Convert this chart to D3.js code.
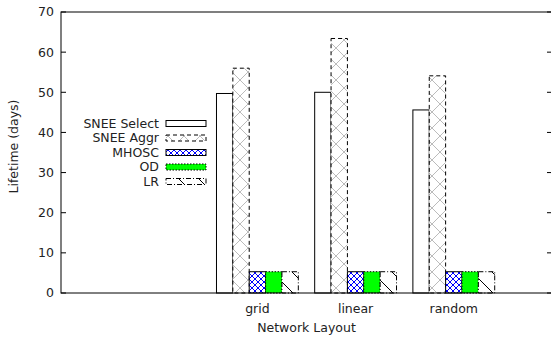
<!DOCTYPE html>
<html>
<head>
<meta charset="utf-8">
<script src="https://cdn.jsdelivr.net/npm/d3@7"></script>
<style>
  body { margin: 0; background: #fff; }
  svg { display: block; }
</style>
</head>
<body>
<svg id="chart" width="551" height="337"></svg>
<script>
// data
const layouts = ["grid", "linear", "random"];
const seriesNames = ["SNEE Select", "SNEE Aggr", "MHOSC", "OD", "LR"];
const sneeSelect = [49.7, 50.0, 45.6];
const sneeAggr = [56.0, 63.4, 54.1];
const mhosc = [5.3, 5.3, 5.3];
const od = [5.3, 5.3, 5.3];
const lr = [5.3, 5.3, 5.3];
const yTicks = [0, 10, 20, 30, 40, 50, 60, 70];

const series = [sneeSelect, sneeAggr, mhosc, od, lr];

const width = 551, height = 337;
const margin = { left: 61, right: -1, top: 12, bottom: 44 };
const svg = d3.select("#chart")
    .attr("font-family", "DejaVu Sans, sans-serif")
    .attr("font-size", 12.5);

// patterns, gnuplot-ish
const defs = svg.append("defs");
function hatch(id, size, color, cross) {
    const p = defs.append("pattern")
        .attr("id", id)
        .attr("patternUnits", "userSpaceOnUse")
        .attr("width", size).attr("height", size);
    p.append("rect").attr("width", size).attr("height", size).attr("fill", "#fff");
    p.append("path")
        .attr("d", `M0,0L${size},${size}`)
        .attr("stroke", color).attr("stroke-width", 1);
    if (cross) p.append("path")
        .attr("d", `M${size},0L0,${size}`)
        .attr("stroke", color).attr("stroke-width", 1);
}
hatch("pAggr", 16, "#bbbbbb", true);
hatch("pMhosc", 6, "#0000ff", true);
hatch("pLr", 20, "#000000", false);

const styles = [
    { fill: "#ffffff", stroke: "#000", dash: null },
    { fill: "url(#pAggr)", stroke: "#000", dash: "4,3" },
    { fill: "url(#pMhosc)", stroke: "#000", dash: null },
    { fill: "#00ff00", stroke: "#000", dash: "1.5,1.5" },
    { fill: "url(#pLr)", stroke: "#000", dash: "5,2,1,2" }
];

const x = d3.scaleLinear().domain([-2, 3]).range([margin.left, width - margin.right]);
const y = d3.scaleLinear().domain([0, 70]).range([height - margin.bottom, margin.top]);

const unit = x(1) - x(0);
const bw = unit / 6;

// bars
series.forEach((vals, j) => {
    svg.append("g")
        .selectAll("rect")
        .data(vals)
        .join("rect")
        .attr("x", (d, i) => x(i) + (j - 2.5) * bw)
        .attr("y", d => y(d))
        .attr("width", bw)
        .attr("height", d => y(0) - y(d))
        .attr("fill", styles[j].fill)
        .attr("stroke", styles[j].stroke)
        .attr("stroke-width", 1)
        .attr("stroke-dasharray", styles[j].dash);
});

// border
const x0 = x.range()[0], x1 = x.range()[1];
svg.append("rect")
    .attr("x", x0).attr("y", y(70))
    .attr("width", x1 - x0).attr("height", y(0) - y(70))
    .attr("fill", "none").attr("stroke", "#000").attr("stroke-width", 1);

// y ticks, inward on both sides
const yt = svg.append("g");
yt.selectAll("line.l").data(yTicks).join("line")
    .attr("class", "l")
    .attr("x1", x0).attr("x2", x0 + 5)
    .attr("y1", d => y(d)).attr("y2", d => y(d))
    .attr("stroke", "#000");
yt.selectAll("line.r").data(yTicks).join("line")
    .attr("class", "r")
    .attr("x1", x1 - 5).attr("x2", x1)
    .attr("y1", d => y(d)).attr("y2", d => y(d))
    .attr("stroke", "#000");
yt.selectAll("text").data(yTicks).join("text")
    .attr("x", x0 - 7).attr("y", d => y(d))
    .attr("dy", "0.35em")
    .attr("text-anchor", "end")
    .attr("fill", "#222")
    .text(d => d);

// category labels
svg.append("g").selectAll("text").data(layouts).join("text")
    .attr("x", (d, i) => x(i))
    .attr("y", y(0) + 20)
    .attr("text-anchor", "middle")
    .attr("fill", "#222")
    .text(d => d);

// axis titles
svg.append("text")
    .attr("x", (x0 + x1) / 2).attr("y", 332)
    .attr("text-anchor", "middle").attr("fill", "#222")
    .text("Network Layout");
svg.append("text")
    .attr("transform", `translate(18,${(y(0) + y(70)) / 2 - 6}) rotate(-90)`)
    .attr("text-anchor", "middle").attr("fill", "#222")
    .text("Lifetime (days)");

// legend
const lg = svg.append("g");
seriesNames.forEach((name, j) => {
    const ly = 123.5 + j * 14.5;
    lg.append("text")
        .attr("x", 159).attr("y", ly).attr("dy", "0.35em")
        .attr("text-anchor", "end").attr("fill", "#222")
        .text(name);
    lg.append("rect")
        .attr("x", 166).attr("y", ly - 3)
        .attr("width", 40).attr("height", 6)
        .attr("fill", styles[j].fill)
        .attr("stroke", styles[j].stroke)
        .attr("stroke-dasharray", styles[j].dash);
});
</script>
</body>
</html>
